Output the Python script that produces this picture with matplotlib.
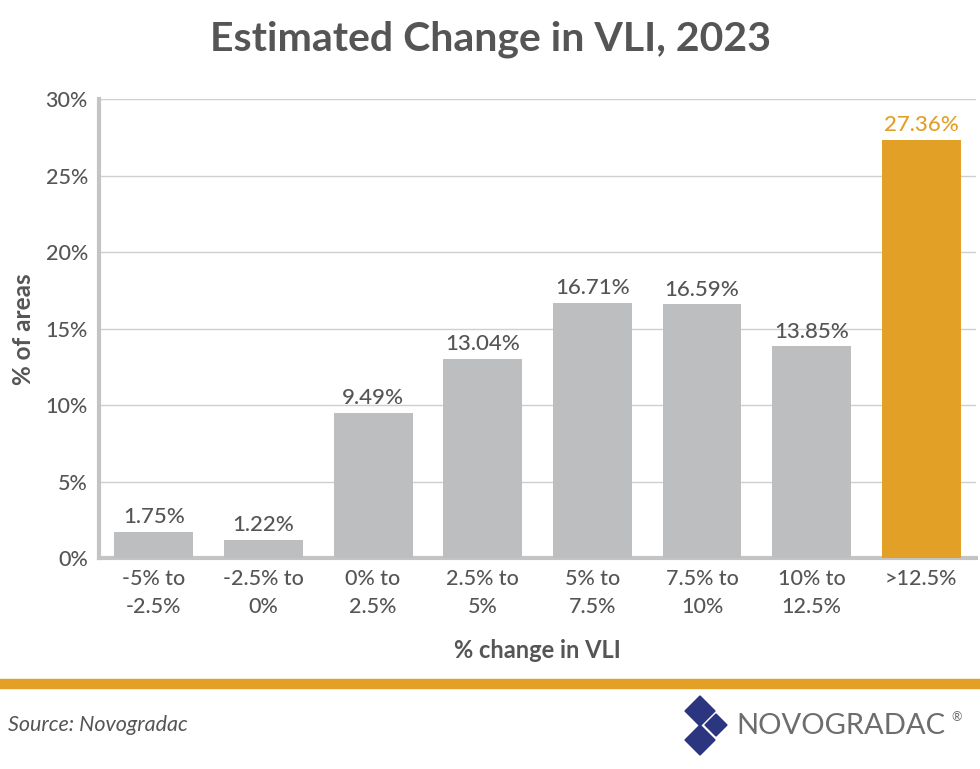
import matplotlib.pyplot as plt
from matplotlib.patches import Polygon, Rectangle

plt.rcParams['font.family'] = ['Lato', 'DejaVu Sans']

categories = ['-5% to\n-2.5%', '-2.5% to\n0%', '0% to\n2.5%', '2.5% to\n5%',
              '5% to\n7.5%', '7.5% to\n10%', '10% to\n12.5%', '>12.5%']
values = [1.75, 1.22, 9.49, 13.04, 16.71, 16.59, 13.85, 27.36]
yticks = [0, 5, 10, 15, 20, 25, 30]

grey = '#bdbec0'
orange = '#e3a027'
text_col = '#555555'
colors = [grey] * 7 + [orange]

fig = plt.figure(figsize=(9.8, 7.69), dpi=100)
ax = fig.add_axes([0.101, 0.274, 0.895, 0.597])

x = range(len(values))
bars = ax.bar(x, values, width=0.72, color=colors, zorder=3)
for i, (b, v) in enumerate(zip(bars, values)):
    ax.text(b.get_x() + b.get_width() / 2, v + 0.3, f'{v:.2f}%',
            ha='center', va='bottom', fontsize=16, fontweight='medium',
            color=orange if i == 7 else text_col)

ax.set_xlim(-0.5, 7.5)
ax.set_ylim(0, 30)
ax.set_yticks(yticks)
ax.set_yticklabels([f'{t}%' for t in yticks], fontsize=15.5, color=text_col,
                   fontweight='medium')
ax.set_xticks(list(x))
ax.set_xticklabels(categories, fontsize=15.5, color=text_col, linespacing=1.45,
                   fontweight='medium')
ax.tick_params(axis='both', length=0, pad=8)
ax.grid(axis='y', color='#cfcfcf', linewidth=1, zorder=0)
for s in ['top', 'right']:
    ax.spines[s].set_visible(False)
for s in ['left', 'bottom']:
    ax.spines[s].set_color('#c4c4c4')
    ax.spines[s].set_linewidth(3)
ax.set_ylabel('% of areas', fontsize=17.5, fontweight='bold', color=text_col, labelpad=8)
ax.set_xlabel('% change in VLI', fontsize=17, fontweight='bold', color=text_col, labelpad=16)

fig.text(0.5, 0.949, 'Estimated Change in VLI, 2023', ha='center', va='center',
         fontsize=29.5, fontweight='bold', color=text_col)

# orange band under the chart
fig.add_artist(Rectangle((0, 1 - 688 / 769), 1, 9 / 769, transform=fig.transFigure,
                         color=orange, zorder=5))

fig.text(0.008, 1 - 725 / 769, 'Source: Novogradac', fontsize=15.5, style='italic',
         color=text_col, va='center', ha='left')

# logo: three diamonds + word mark
navy = '#2b3580'
W, H = 980, 769


def diamond(cx, cy, r):
    pts = [(cx / W, 1 - (cy - r) / H), ((cx + r) / W, 1 - cy / H),
           (cx / W, 1 - (cy + r) / H), ((cx - r) / W, 1 - cy / H)]
    fig.add_artist(Polygon(pts, closed=True, transform=fig.transFigure,
                           color=navy, zorder=5))


diamond(700, 711, 15)
diamond(700, 740, 15)
diamond(716, 725, 11)
fig.text(736 / W, 1 - 726 / H, 'NOVOGRADAC', fontsize=21, color='#6d6d6d',
         va='center', ha='left')
fig.text(951 / W, 1 - 717 / H, '®', fontsize=9, color='#6d6d6d', va='center', ha='left')

fig.savefig('out.png', dpi=100)
